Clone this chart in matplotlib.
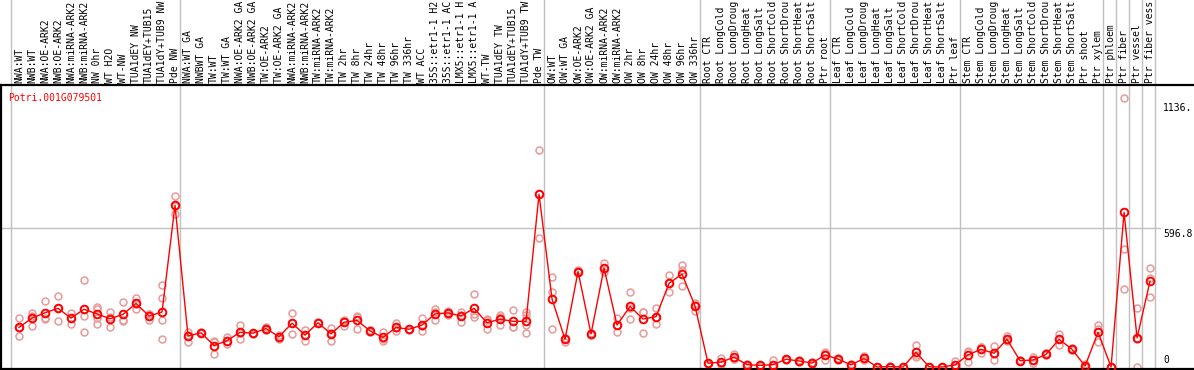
import numpy as np
import matplotlib
matplotlib.use("Agg")
import matplotlib.pyplot as plt
import matplotlib.transforms as mtransforms

gene = "Potri.001G079501"

labels = ['NWA:WT', 'NWB:WT', 'NWA:OE-ARK2', 'NWB:OE-ARK2', 'NWA:miRNA-ARK2', 'NWB:miRNA-ARK2',
          'NW 0hr', 'WT H2O', 'WT-NW', 'TUA1dEY NW', 'TUA1dEY+TUB15', 'TUA1dY+TUB9 NW', 'Pde NW',
          'NWA:WT GA', 'NWBWT GA', 'TW:WT', 'TW:WT GA', 'NWA:OE-ARK2 GA', 'NWB:OE-ARK2 GA',
          'TW:OE-ARK2', 'TW:OE-ARK2 GA', 'NWA:miRNA-ARK2', 'NWB:miRNA-ARK2', 'TW:miRNA-ARK2',
          'TW:miRNA-ARK2', 'TW 2hr', 'TW 8hr', 'TW 24hr', 'TW 48hr', 'TW 96hr', 'TW 336hr',
          'WT ACC', '35S::etr1-1 H2', '35S::etr1-1 AC', 'LMX5::etr1-1 H', 'LMX5::etr1-1 A',
          'WT-TW', 'TUA1dEY TW', 'TUA1dEY+TUB15', 'TUA1dY+TUB9 TW', 'Pde TW',
          'OW:WT', 'OW:WT GA', 'OW:OE-ARK2', 'OW:OE-ARK2 GA', 'OW:miRNA-ARK2', 'OW:miRNA-ARK2',
          'OW 2hr', 'OW 8hr', 'OW 24hr', 'OW 48hr', 'OW 96hr', 'OW 336hr',
          'Root CTR', 'Root LongCold', 'Root LongDroug', 'Root LongHeat', 'Root LongSalt',
          'Root ShortCold', 'Root ShortDrou', 'Root ShortHeat', 'Root ShortSalt', 'Ptr root',
          'Leaf CTR', 'Leaf LongCold', 'Leaf LongDroug', 'Leaf LongHeat', 'Leaf LongSalt',
          'Leaf ShortCold', 'Leaf ShortDrou', 'Leaf ShortHeat', 'Leaf ShortSalt', 'Ptr leaf',
          'Stem CTR', 'Stem LongCold', 'Stem LongDroug', 'Stem LongHeat', 'Stem LongSalt',
          'Stem ShortCold', 'Stem ShortDrou', 'Stem ShortHeat', 'Stem ShortSalt', 'Ptr shoot',
          'Ptr xylem', 'Ptr phloem', 'Ptr fiber', 'Ptr vessel', 'Ptr fiber vess']

means = [170, 210, 233, 252, 210, 248, 228, 207, 226, 273, 219, 236, 694,
         133, 147, 92, 113, 149, 145, 165, 130, 188, 137, 190, 142, 192, 200, 155, 127, 170,
         162, 180, 228, 232, 219, 252, 190, 205, 196, 196, 742,
         292, 119, 410, 142, 425, 180, 260, 206, 216, 359, 399, 262,
         16, 21, 42, 10, 7, 10, 33, 26, 17, 52,
         34, 9, 37, 0, 2, 0, 63, 1, 0, 9,
         52, 76, 59, 119, 27, 30, 54, 119, 76, 4, 149,
         0, 664, 125, 369]

reps = [[209, 133, 168], [233, 176, 220], [283, 212, 205], [305, 197, 254], [233, 185, 212],
        [374, 219, 149], [259, 250, 209, 185], [236, 170, 214], [278, 202, 198], [298, 250, 271],
        [228, 203, 226], [351, 296, 202, 120], [734, 657, 690],
        [152, 109, 138], [147, 150, 144], [112, 56, 108], [130, 97, 112], [179, 122, 146],
        [145, 148, 142], [173, 160, 162], [138, 122, 130], [231, 142, 191], [159, 113, 139],
        [190, 193, 187], [166, 113, 147], [177, 200, 199], [220, 165, 215], [160, 150, 155],
        [152, 110, 119], [188, 155, 167], [162, 165, 159], [209, 156, 175], [248, 202, 234],
        [240, 232, 224], [238, 195, 224], [313, 216, 227], [207, 162, 201], [222, 180, 213],
        [245, 170, 173], [238, 223, 180, 145], [932, 553, 741],
        [388, 321, 162], [109, 125, 123], [409, 415, 408], [142, 145, 139], [445, 409, 421],
        [209, 149, 182], [321, 205, 254], [238, 145, 235], [252, 183, 213], [394, 323, 360],
        [439, 416, 348], [276, 242, 268],
        [16, 18, 14], [37, 12, 14], [56, 35, 35], [10, 14, 6], [7, 4, 10],
        [30, 0, 0], [33, 36, 30], [26, 30, 22], [17, 20, 14], [66, 30, 60],
        [34, 38, 30], [9, 12, 6], [37, 46, 28], [0, 2, 0], [2, 4, 0],
        [0, 0, 0], [93, 44, 52], [1, 2, 0], [0, 0, 0], [27, 0, 0],
        [66, 23, 67], [59, 85, 84], [90, 30, 57], [133, 110, 114], [27, 30, 24],
        [44, 16, 30], [54, 58, 50], [142, 94, 121], [76, 80, 72], [12, 0, 0], [180, 106, 161],
        [0, 0, 0], [1154, 505, 334], [255, 0, 120], [424, 302, 381]]

# last sample of each group -> separator drawn just after it
group_ends = [-1, 12, 40, 52, 62, 72, 83, 84, 85, 86, 87]

ytick_vals = [1136, 596.8, 0]
ytick_text = ['1136.', '596.8', '0']

fig = plt.figure(figsize=(11.94, 3.70), dpi=100)
ax = fig.add_axes([1 / 1194, 1 / 370, 1193 / 1194, 284 / 370])
ax.set_xlim(-1.385, 90.38)
ax.set_ylim(-8.6, 1210.8)
ax.set_xticks([])
ax.set_yticks([])
ax.spines['right'].set_visible(False)
for s in ['left', 'top', 'bottom']:
    ax.spines[s].set_linewidth(1.6)

x = np.arange(len(means))
trans = mtransforms.blended_transform_factory(ax.transData, ax.transAxes)

# group separators run through the label area too
for e in group_ends:
    ax.plot([e + 0.385, e + 0.385], [0, 1.31], color='#c0c0c0', lw=1,
            transform=trans, clip_on=False, zorder=1)

ax.plot([-1.385, 87.8], [596.8, 596.8], color='#c0c0c0', lw=1, zorder=1)

for i, r in enumerate(reps):
    ax.plot([i] * len(r), r, 'o', ms=5, mfc='none', mec='#e89a9a', mew=1.1, zorder=2)

ax.plot(x, means, '-', color='red', lw=1, zorder=3)
ax.plot(x, means, 'o', ms=5.5, mfc='none', mec='red', mew=1.4, zorder=4)

for i, lab in enumerate(labels):
    ax.text(i, 1.007, lab, transform=trans, rotation=90, ha='center', va='bottom',
            family='DejaVu Sans Mono', fontsize=7, color='black')

ax.text(-0.846, 0.972, gene, transform=trans, ha='left', va='top',
        family='DejaVu Sans Mono', fontsize=7, color='red')

for v, t in zip(ytick_vals, ytick_text):
    ax.text(88.0, v + (8 if v == 0 else -4), t, ha='left', va='bottom' if v == 0 else 'top',
            family='DejaVu Sans Mono', fontsize=7, color='black')

fig.savefig('out.png', dpi=100)
